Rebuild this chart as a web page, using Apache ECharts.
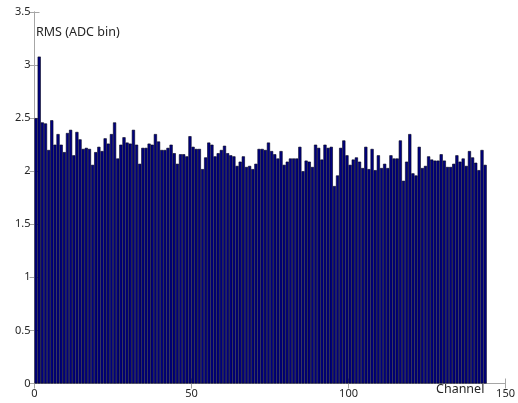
<!DOCTYPE html>
<html>
<head>
<meta charset="utf-8">
<script src="https://cdn.jsdelivr.net/npm/echarts@6/dist/echarts.min.js"></script>
<style>
html,body{margin:0;padding:0;background:#fff;}
#c{width:518px;height:403px;}
</style>
</head>
<body>
<div id="c"></div>
<script>
// RMS per channel (ADC bin), channels 0..143
const rms = [
  2.50,3.08,2.46,2.45,2.20,2.48,2.25,2.35,2.25,2.18,
  2.36,2.39,2.15,2.37,2.30,2.21,2.22,2.21,2.06,2.18,
  2.23,2.19,2.31,2.26,2.35,2.46,2.12,2.25,2.32,2.27,
  2.26,2.39,2.25,2.07,2.22,2.22,2.26,2.25,2.35,2.28,
  2.20,2.20,2.22,2.25,2.17,2.07,
  2.16,2.16,2.14,2.33,2.23,2.21,2.21,2.02,2.13,2.27,
  2.25,2.14,2.17,2.20,2.24,2.17,2.15,2.14,2.05,2.09,
  2.14,2.04,2.05,2.02,2.07,2.21,2.21,2.20,2.27,2.19,
  2.16,2.12,2.19,2.06,2.09,2.12,2.12,2.12,2.23,2.00,
  2.10,2.09,2.04,2.25,2.22,2.11,2.25,2.22,2.23,
  1.86,1.96,2.22,2.29,2.15,2.06,2.11,2.13,2.09,2.03,
  2.23,2.02,2.21,2.01,2.15,2.03,2.07,2.03,2.15,2.12,
  2.12,2.29,1.91,2.09,2.35,1.98,1.96,2.23,2.03,2.05,
  2.14,2.11,2.10,2.10,2.16,2.10,2.04,2.04,2.07,2.15,
  2.09,2.12,2.05,2.19,2.13,2.08,2.01,2.20,2.06
];
const channels = rms.map((v, i) => i);
const xTicks = [0, 50, 100, 150];
const yTicks = [0, 0.5, 1, 1.5, 2, 2.5, 3, 3.5];
const xLabel = 'Channel';
const yLabel = 'RMS (ADC bin)';

const chart = echarts.init(document.getElementById('c'), null, {renderer: 'canvas'});
const axisColor = '#a6a6a6';
const textColor = '#262626';
const font = 'Noto Sans';

const tickCommon = {
  axisLine: {show: true, lineStyle: {color: axisColor, width: 1}},
  axisTick: {show: true, inside: true, length: 5, lineStyle: {color: axisColor}},
  splitLine: {show: false}
};

chart.setOption({
  animation: false,
  backgroundColor: '#ffffff',
  grid: {left: 34.5, right: 11.5, top: 12, bottom: 19.5, containLabel: false},
  xAxis: [
    Object.assign({
      type: 'value', min: xTicks[0], max: xTicks[xTicks.length - 1], interval: 50,
      position: 'bottom',
      axisLabel: {color: textColor, fontFamily: font, fontSize: 11, margin: 5}
    }, tickCommon),
    Object.assign({
      type: 'value', min: xTicks[0], max: xTicks[xTicks.length - 1], interval: 50,
      position: 'top', axisLabel: {show: false}
    }, tickCommon)
  ],
  yAxis: [
    Object.assign({
      type: 'value', min: yTicks[0], max: yTicks[yTicks.length - 1], interval: 0.5,
      position: 'left',
      axisLabel: {color: textColor, fontFamily: font, fontSize: 11, margin: 4}
    }, tickCommon),
    Object.assign({
      type: 'value', min: yTicks[0], max: yTicks[yTicks.length - 1], interval: 0.5,
      position: 'right', axisLabel: {show: false}
    }, tickCommon)
  ],
  graphic: [
    {type: 'text', left: 36, top: 26,
      style: {text: yLabel, fill: textColor, font: '12.5px "Noto Sans"'}},
    {type: 'text', left: 436, top: 383,
      style: {text: xLabel, fill: textColor, font: '12.5px "Noto Sans"'}}
  ],
  series: [{
    type: 'bar',
    xAxisIndex: 0, yAxisIndex: 0,
    data: channels.map((c, i) => [c + 0.5, rms[i]]),
    barWidth: '100%',
    barGap: '0%',
    itemStyle: {color: '#000080', borderColor: '#00001a', borderWidth: 0.6},
    emphasis: {disabled: true},
    silent: true
  }]
});
</script>
</body>
</html>
